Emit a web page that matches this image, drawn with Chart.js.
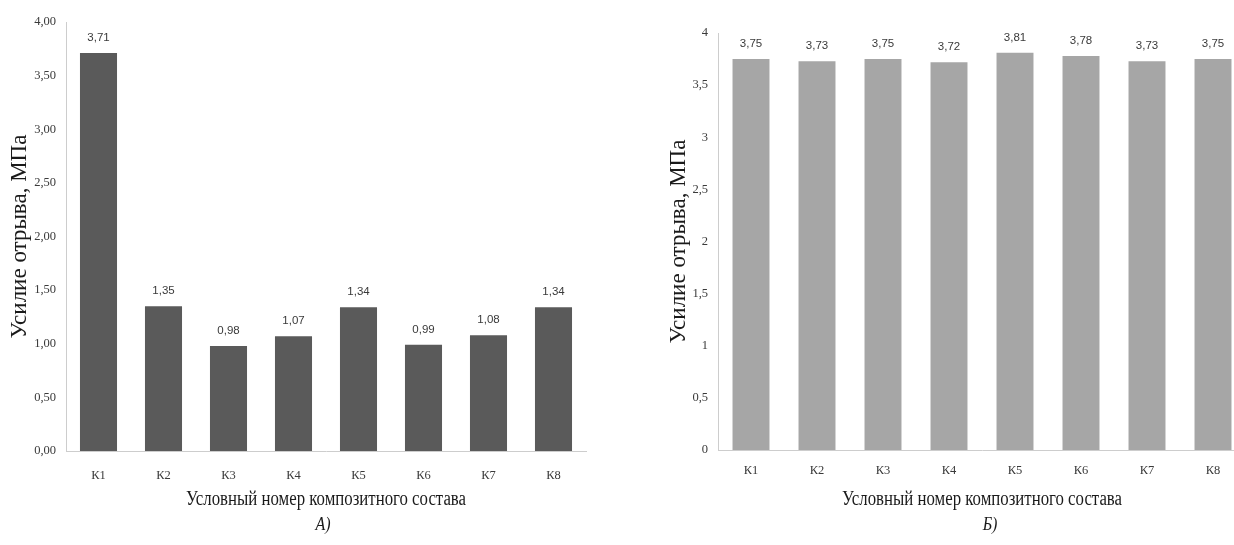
<!DOCTYPE html>
<html>
<head>
<meta charset="utf-8">
<script src="https://cdn.jsdelivr.net/npm/chart.js@4.4.1/dist/chart.umd.min.js"></script>
<style>
  html, body { margin: 0; padding: 0; background: #fff; width: 1234px; height: 545px; overflow: hidden; position: relative; }
  canvas { position: absolute; top: 0; }
  #panelA { left: 0; }
  #panelB { left: 626px; }
</style>
</head>
<body>
<canvas id="panelA" width="600" height="545"></canvas>
<canvas id="panelB" width="620" height="545"></canvas>
<script>
// Composite formulations
const categories = ['К1', 'К2', 'К3', 'К4', 'К5', 'К6', 'К7', 'К8'];

// Pull-off force, MPa
const forceA = [3.71, 1.35, 0.98, 1.07, 1.34, 0.99, 1.08, 1.34];
const forceB = [3.75, 3.73, 3.75, 3.72, 3.81, 3.78, 3.73, 3.75];

// Value-axis tick labels
const yTickLabelsA = ['0,00', '0,50', '1,00', '1,50', '2,00', '2,50', '3,00', '3,50', '4,00'];
const yTickLabelsB = ['0', '0,5', '1', '1,5', '2', '2,5', '3', '3,5', '4'];

const yTitle = 'Усилие отрыва, МПа';
const xTitle = 'Условный номер композитного состава';
const panelLetters = ['А)', 'Б)'];

const SERIF = '"Liberation Serif", "Times New Roman", serif';
const SANS = '"Liberation Sans", Arial, sans-serif';

const fmtValue = v => v.toFixed(2).replace('.', ',');

// Numbers printed above each bar
const valueLabels = {
  id: 'valueLabels',
  afterDatasetsDraw(chart) {
    const ctx = chart.ctx;
    const ds = chart.data.datasets[0];
    const meta = chart.getDatasetMeta(0);
    ctx.save();
    ctx.font = '11.5px ' + SANS;
    ctx.fillStyle = '#3a3a3a';
    ctx.textAlign = 'center';
    ctx.textBaseline = 'alphabetic';
    meta.data.forEach((bar, i) => {
      ctx.fillText(fmtValue(ds.data[i]), bar.x, bar.y - 12);
    });
    ctx.restore();
  }
};

// Category-axis caption and panel letter under the plot, in a narrow serif
const captions = {
  id: 'captions',
  afterDraw(chart, args, opts) {
    const ctx = chart.ctx;
    const cx = (chart.chartArea.left + chart.chartArea.right) / 2;
    ctx.save();
    ctx.fillStyle = '#1a1a1a';
    ctx.textAlign = 'center';
    ctx.textBaseline = 'middle';
    ctx.save();
    ctx.translate(cx, opts.titleY);
    ctx.scale(opts.squeeze, 1);
    ctx.font = '20px ' + SERIF;
    ctx.fillText(opts.title, 0, 0);
    ctx.restore();
    ctx.save();
    ctx.translate(cx + opts.letterDx, opts.letterY);
    ctx.scale(opts.squeeze, 1);
    ctx.font = 'italic 19px ' + SERIF;
    ctx.fillText(opts.letter, 0, 0);
    ctx.restore();
    ctx.restore();
  }
};

function makePanel(canvasId, values, barColor, tickLabels, g) {
  return new Chart(document.getElementById(canvasId), {
    type: 'bar',
    data: {
      labels: categories,
      datasets: [{
        data: values,
        backgroundColor: barColor,
        borderWidth: 0,
        barPercentage: g.barPct,
        categoryPercentage: 1
      }]
    },
    options: {
      responsive: false,
      animation: false,
      devicePixelRatio: 1,
      layout: { padding: { top: g.top, right: g.right, left: 0, bottom: 0 } },
      plugins: {
        legend: { display: false },
        tooltip: { enabled: false },
        captions: {
          title: xTitle,
          letter: g.letter,
          titleY: 500,
          letterY: 525,
          letterDx: g.letterDx,
          squeeze: 0.84
        }
      },
      scales: {
        x: {
          grid: { display: false, drawTicks: false },
          border: { display: true, color: '#cdcdcd', width: 1 },
          ticks: {
            font: { family: SERIF, size: 12.5 },
            color: '#3a3a3a',
            padding: g.xPad,
            maxRotation: 0
          },
          afterFit(scale) { scale.height = g.xHeight; }
        },
        y: {
          min: 0,
          max: 4,
          grid: { display: false, drawTicks: false },
          border: { display: true, color: '#cdcdcd', width: 1 },
          ticks: {
            stepSize: 0.5,
            font: { family: SERIF, size: 12.5 },
            color: '#3a3a3a',
            padding: 10,
            callback: (v, i) => tickLabels[i]
          },
          title: {
            display: true,
            text: yTitle,
            font: { family: SERIF, size: 23 },
            color: '#1a1a1a',
            padding: { top: g.titlePad, bottom: 0 }
          },
          afterFit(scale) { scale.width = g.yWidth; }
        }
      }
    },
    plugins: [valueLabels, captions]
  });
}

makePanel('panelA', forceA, '#5a5a5a', yTickLabelsA, {
  top: 22, right: 14, yWidth: 66, xHeight: 94, xPad: 17,
  titlePad: 6, barPct: 0.57, letter: panelLetters[0], letterDx: -3
});

makePanel('panelB', forceB, '#a6a6a6', yTickLabelsB, {
  top: 33, right: 0, yWidth: 92, xHeight: 95, xPad: 13,
  titlePad: 39, barPct: 0.56, letter: panelLetters[1], letterDx: 8
});
</script>
</body>
</html>
